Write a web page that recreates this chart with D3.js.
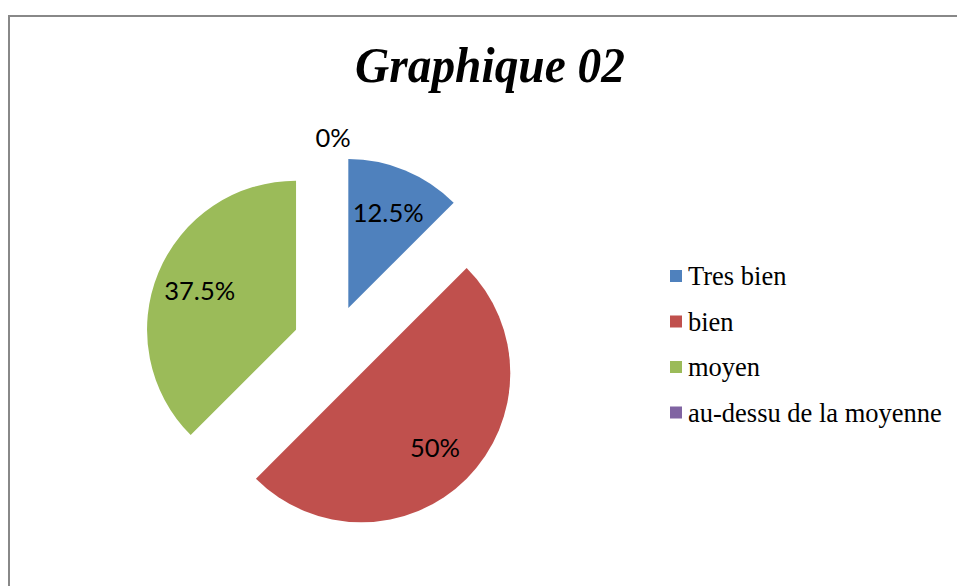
<!DOCTYPE html>
<html>
<head>
<meta charset="utf-8">
<script src="https://cdn.jsdelivr.net/npm/d3@7"></script>
<style>
  html, body { margin: 0; padding: 0; background: #fff; }
  svg { display: block; }
</style>
</head>
<body>
<svg id="chart" width="957" height="586"></svg>
<script>
const title = "Graphique 02";
const categories = ["Tres bien", "bien", "moyen", "au-dessu de la moyenne"];
const values = [12.5, 50, 37.5, 0];
const valueLabels = ["12.5%", "50%", "37.5%", "0%"];
const colors = ["#4F81BD", "#C0504D", "#9BBB59", "#8064A2"];

const svg = d3.select("#chart");

// frame
svg.append("rect")
  .attr("x", 9).attr("y", 16)
  .attr("width", 980).attr("height", 600)
  .attr("fill", "#fff")
  .attr("stroke", "#888").attr("stroke-width", 2);

// title
svg.append("text")
  .attr("x", 490).attr("y", 82)
  .attr("text-anchor", "middle")
  .attr("font-family", "Liberation Serif, Times New Roman, serif")
  .attr("font-weight", "bold").attr("font-style", "italic")
  .attr("font-size", 50)
  .attr("textLength", 270).attr("lengthAdjust", "spacingAndGlyphs")
  .attr("fill", "#000")
  .text(title);

const cx = 333, cy = 345, r = 149, explode = 40;
const pie = d3.pie().sort(null).value(d => d)(values);
const arc = d3.arc().innerRadius(0).outerRadius(r);

const g = svg.append("g").attr("transform", `translate(${cx},${cy})`);

pie.forEach((p, i) => {
  const mid = (p.startAngle + p.endAngle) / 2;
  const ox = explode * Math.sin(mid), oy = -explode * Math.cos(mid);
  const sg = g.append("g").attr("transform", `translate(${ox},${oy})`);
  if (p.endAngle > p.startAngle) {
    sg.append("path").attr("d", arc(p)).attr("fill", colors[i]);
  }
  const lr = p.value > 0 ? r * 0.7 : r + 19;
  sg.append("text")
    .attr("x", lr * Math.sin(mid))
    .attr("y", -lr * Math.cos(mid))
    .attr("text-anchor", "middle")
    .attr("dominant-baseline", "central")
    .attr("font-family", "Lato, Carlito, Calibri, sans-serif")
    .attr("font-size", 25.5)
    .attr("fill", "#000")
    .text(valueLabels[i]);
});

// legend
const lg = svg.append("g");
categories.forEach((c, i) => {
  const y = 276 + i * 45.5;
  lg.append("rect").attr("x", 670).attr("y", y - 6).attr("width", 12).attr("height", 12)
    .attr("fill", colors[i]);
  lg.append("text").attr("x", 688).attr("y", y)
    .attr("dominant-baseline", "central")
    .attr("font-family", "Liberation Serif, Times New Roman, serif")
    .attr("font-size", 26.5)
    .attr("fill", "#000")
    .text(c);
});
</script>
</body>
</html>
